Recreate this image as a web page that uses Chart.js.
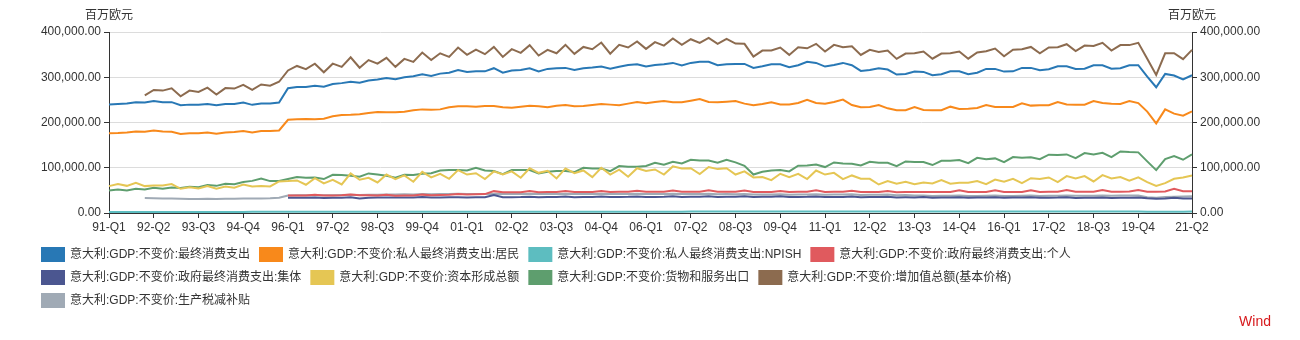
<!DOCTYPE html>
<html>
<head>
<meta charset="utf-8">
<script src="https://cdn.jsdelivr.net/npm/chart.js@4.4.0/dist/chart.umd.min.js"></script>
<style>
	body { margin: 0; background: #fff; }
</style>
</head>
<body>
<canvas id="MyChart" width="1300" height="340"></canvas>
<script>
// quarters 91-Q1 .. 21-Q2
var years = ['91','92','93','94','95','96','97','98','99','00','01','02','03','04','05','06',
	'07','08','09','10','11','12','13','14','15','16','17','18','19','20','21'];
var quarters = ['Q1','Q2','Q3','Q4'];
var tickLabels = ['91-Q1','92-Q2','93-Q3','94-Q4','96-Q1','97-Q2','98-Q3','99-Q4','01-Q1','02-Q2',
	'03-Q3','04-Q4','06-Q1','07-Q2','08-Q3','09-Q4','11-Q1','12-Q2','13-Q3','14-Q4','16-Q1','17-Q2',
	'18-Q3','19-Q4','21-Q2'];
var unit = '百万欧元';

var consumption = [
	240000,241000,242000,245000,244000,247500,245000,245000,238000,239500,
	239000,241000,238000,241000,241000,244000,239000,242000,242000,244000,
	275600,278600,278600,281000,279000,285000,287000,290000,288000,293000,
	295000,298500,295600,300000,302000,306600,303000,308000,310000,316000,
	311800,313000,313000,320000,310000,314800,316000,320000,313000,318500,
	320000,320700,316000,320000,321400,323600,319000,323000,327000,328800,
	323600,327000,328800,331700,325800,331700,334000,334000,326600,328800,
	329500,329500,320700,324400,328800,328800,322000,326600,334000,331700,
	323600,327000,331700,326600,314000,316000,320000,317000,306000,307400,
	312500,311800,304400,306600,313000,313000,306600,310000,318500,318500,
	312500,313000,320700,320700,315500,317700,324400,324400,318500,319000,
	326600,326600,319000,320000,326600,326600,301500,277900,307400,303700,
	295000,304400];
var households = [
	176000,176700,178000,180000,179500,182500,180000,179500,174500,176000,
	176000,178000,175000,178000,179000,181000,178000,181000,181000,182500,
	206000,207000,207500,207000,208500,213600,216600,217000,218000,221000,
	223000,222500,222500,224000,227000,229000,228400,229000,233600,235800,
	235800,235000,236500,236500,233600,232800,235000,237000,235800,233600,
	237000,238700,235800,236500,238700,241000,239500,238000,241700,245400,
	242400,245400,247600,244600,244600,248300,252000,245400,244600,246000,
	247600,241700,238000,241000,244600,240000,240000,243000,250000,243000,
	241700,245400,250600,238700,233600,234300,238700,231300,227000,227000,
	234000,227700,227000,227000,235000,230000,230600,232000,238700,234300,
	234300,234300,242400,237300,238000,238000,245400,240000,239500,239500,
	247600,243000,241700,241000,247600,243000,224000,198000,229000,219600,
	215000,224700];
var npish = [
	2300,2300,2320,2350,2350,2360,2380,2400,2400,2410,
	2420,2440,2450,2450,2470,2480,2500,2500,2510,2530,
	2550,2560,2570,2580,2600,2610,2620,2640,2650,2660,
	2680,2690,2700,2710,2720,2740,2750,2760,2770,2780,
	2800,2800,2810,2820,2830,2840,2850,2860,2870,2880,
	2900,2900,2910,2920,2930,2940,2950,2960,2970,2980,
	3000,3000,3010,3020,3030,3040,3050,3050,3060,3060,
	3070,3070,3060,3060,3050,3050,3060,3060,3070,3070,
	3080,3080,3080,3090,3090,3090,3100,3100,3100,3110,
	3110,3110,3100,3100,3100,3110,3110,3120,3120,3130,
	3130,3140,3140,3150,3150,3160,3160,3170,3170,3180,
	3180,3190,3190,3200,3200,3200,2900,2700,2950,3000,
	3000,3050];
var govIndividual = [
	null,null,null,null,null,null,null,null,null,null,
	null,null,null,null,null,null,null,null,null,null,
	38700,38500,38800,40500,38600,38900,39000,40800,39000,39200,
	38500,40500,38000,38500,38800,40600,39000,39800,40500,42000,
	41000,41500,41800,48300,45800,46000,46000,48500,46000,46200,
	46300,48500,46200,46500,46500,48800,46500,46800,46800,49000,
	46800,47000,47000,49500,46800,47000,47200,50000,47000,47200,
	47000,49800,46500,46500,46600,48500,46500,46800,46800,50000,
	46500,46800,46800,49000,46200,46500,46500,48500,46000,46300,
	46300,46500,46200,46300,46300,50000,46300,46500,46600,50000,
	46400,46600,46600,50500,46500,46700,46800,50800,46800,47000,
	47000,51000,47000,47200,47300,51000,47200,46800,47500,53500,
	48000,47800];
var govCollective = [
	null,null,null,null,null,null,null,null,null,null,
	null,null,null,null,null,null,null,null,null,null,
	33600,33800,33500,34500,33000,33500,33800,34800,32000,33500,
	34000,34500,34000,34500,34200,35500,34000,34500,34800,35000,
	34500,35000,35000,39500,34800,35000,35200,36000,34800,35200,
	35500,36200,35000,35500,35600,36500,35200,35600,35800,36500,
	35300,35600,35800,36800,35500,35800,36000,37000,35600,35800,
	36000,37200,35600,35800,36000,36800,35400,35600,35800,36500,
	35200,35400,35600,36300,35000,35200,35200,35800,34500,34700,
	34500,35200,33800,34000,34200,35000,33800,34000,34200,35000,
	33800,34000,34000,34800,33600,33800,34000,34800,33400,33600,
	33800,34500,33300,33500,33500,34300,32500,31500,32000,33500,
	32000,32000];
var capital = [
	59400,63800,60000,66800,59400,61000,61000,63800,53500,57000,
	54000,59400,53500,58700,55700,63000,58700,59400,58700,69700,
	70500,72000,62400,77000,65300,73400,63000,87500,73400,77900,
	67500,85000,75000,83000,69000,91000,78600,86700,75600,94800,
	85000,88000,75000,91900,85000,91900,77900,99000,88800,93400,
	76400,98500,88000,94000,79300,100000,85000,95600,80000,99000,
	93000,96300,85000,103000,98500,99000,86000,101500,97000,99000,
	85000,92000,78600,79300,72700,86700,79300,86700,75000,94000,
	85000,88800,75000,83000,75600,75600,63000,70500,64600,69000,
	63500,67500,65300,72700,64600,66800,66800,70500,63800,74000,
	69000,75600,66000,77000,75000,78600,68300,81500,76400,81500,
	69700,83800,76400,79300,71200,78600,68300,60000,66000,75600,
	78600,83000];
var exports = [
	49800,52000,49800,53500,52000,55700,53500,56500,55000,58000,
	57000,61600,60000,64600,63800,68300,71000,76400,70500,70500,
	75000,79300,78000,78600,75000,84500,83800,82300,80000,87500,
	85000,82300,77900,84500,83800,86700,88000,94000,94800,94800,
	94000,100000,94000,92600,86000,94800,94800,94800,87500,91000,
	92600,92600,90400,100000,98500,98500,92600,103700,102000,102000,
	104000,111000,106600,113000,109600,117700,116000,116000,111000,117700,
	111800,104400,85000,91000,94000,94800,92000,104400,105000,107000,
	101500,111800,109600,109000,105000,113000,111000,111000,103700,114000,
	112500,112500,106000,115500,115500,117000,110000,122000,119000,120700,
	112500,123600,122000,123000,119000,128800,128000,129500,121400,132500,
	129500,133000,123600,136000,134700,134000,114000,94800,119000,126000,
	117700,129500];
var valueAdded = [
	null,null,null,null,260000,272000,270500,275600,258000,270500,
	267500,277000,262000,276000,275000,283000,272000,284000,281500,290000,
	315000,325000,318000,330000,311000,330000,323000,344000,321000,338000,
	330000,343000,323000,340600,334000,354600,338000,353000,345000,365700,
	349400,361000,351000,367000,345000,362000,354000,371000,348000,360500,
	353000,371600,351700,367000,362000,376700,352000,371600,365700,379000,
	362700,377500,370000,385600,371600,384000,376000,387000,373800,385000,
	374500,373800,345800,359000,359000,365700,349400,366400,364000,373800,
	356800,371600,366400,368600,349400,360500,356000,359000,340600,352400,
	353000,356800,341000,352400,353000,356800,341000,354600,357600,363500,
	346500,361000,362000,367000,353000,365700,366400,373000,358000,370000,
	369000,376000,359000,371000,371000,376000,341000,305000,353000,353000,
	340000,360500];
var taxes = [
	null,null,null,null,33000,32500,32000,32000,31500,31000,
	31000,31500,31000,31500,31500,32000,32000,32000,32500,33500,
	38500,39000,39200,39500,39000,39500,39800,40500,40000,40200,
	40500,41000,40800,41200,41000,41800,41500,41800,42000,42500,
	41800,42000,41800,42500,41800,42000,41900,42500,41800,42000,
	41800,42300,41800,42000,42000,42500,41800,42000,42000,42500,
	41800,42000,42000,42500,41800,42000,41900,42400,41600,41800,
	41600,42000,40800,41000,41000,41600,40600,40800,41000,41600,
	40500,40800,40800,41300,40000,40200,40200,40800,39500,39800,
	38500,38800,37800,38000,38000,38500,37600,37800,38000,38500,
	37600,37800,38000,38500,37800,38000,38200,38800,38000,38200,
	38300,38800,38200,38400,38500,38800,35000,33500,35500,36000,
	36500,37000];

var labels = [];
for (var y = 0; y < years.length; y++) {
	for (var q = 0; q < quarters.length; q++) {
		if (years[y] == '21' && q > 1) break;
		labels.push(years[y] + '-' + quarters[q]);
	}
}

var font = '"Liberation Sans", "Noto Sans CJK SC", sans-serif';
Chart.defaults.font.family = font;
Chart.defaults.font.size = 12;
Chart.defaults.color = '#333';

function line(label, data, color) {
	return {
		label: label,
		data: data,
		borderColor: color,
		backgroundColor: color,
		borderWidth: 2,
		pointRadius: 0,
		tension: 0,
		spanGaps: false
	};
}

var fmt = function(v) {
	return v.toLocaleString('en-US', { minimumFractionDigits: 2, maximumFractionDigits: 2 });
};

var extras = {
	id: 'extras',
	afterDraw: function(chart) {
		var ctx = chart.ctx, a = chart.chartArea;
		ctx.save();
		ctx.font = '12px ' + font;
		ctx.fillStyle = '#333';
		ctx.textAlign = 'center';
		ctx.textBaseline = 'middle';
		ctx.fillText(unit, a.left, 16);
		ctx.fillText(unit, a.right, 16);
		ctx.font = '14px ' + font;
		ctx.fillStyle = '#d7191c';
		ctx.textAlign = 'right';
		ctx.fillText('Wind', 1271, 322);
		ctx.restore();
	}
};

// keep the legend rows inside the plot width (so the last item wraps to a third row)
var legendWidth = 1160;
var narrowLegend = {
	id: 'narrowLegend',
	beforeLayout: function(chart) {
		var lg = chart.legend;
		if (lg && !lg._narrow) {
			var update = lg.update;
			lg.update = function(w, h, m) { update.call(this, Math.min(w, legendWidth), h, m); };
			lg._narrow = true;
		}
	},
	afterLayout: function(chart) {
		chart.legend.right = chart.legend.left + legendWidth;
	}
};

var ctx = document.getElementById('MyChart').getContext('2d');
var chart = new Chart(ctx, {
	type: 'line',
	data: {
		labels: labels,
		datasets: [
			line('意大利:GDP:不变价:最终消费支出', consumption, '#2878b5'),
			line('意大利:GDP:不变价:私人最终消费支出:居民', households, '#f8891b'),
			line('意大利:GDP:不变价:私人最终消费支出:NPISH', npish, '#5dbdc0'),
			line('意大利:GDP:不变价:政府最终消费支出:个人', govIndividual, '#e05a5e'),
			line('意大利:GDP:不变价:政府最终消费支出:集体', govCollective, '#4b5690'),
			line('意大利:GDP:不变价:资本形成总额', capital, '#e5c654'),
			line('意大利:GDP:不变价:货物和服务出口', exports, '#5e9e6e'),
			line('意大利:GDP:不变价:增加值总额(基本价格)', valueAdded, '#8c6b4f'),
			line('意大利:GDP:不变价:生产税减补贴', taxes, '#a0aab5')
		]
	},
	options: {
		responsive: false,
		animation: false,
		layout: { padding: { left: 32, right: 30, top: 32, bottom: 23 } },
		plugins: {
			legend: {
				position: 'bottom',
				align: 'start',
				labels: { boxWidth: 22, boxHeight: 13, padding: 10, color: '#333', font: { size: 12 } }
			},
			tooltip: { enabled: false }
		},
		scales: {
			x: {
				offset: false,
				grid: { drawOnChartArea: false, drawTicks: true, tickLength: 5, tickColor: '#333' },
				border: { color: '#333' },
				ticks: {
					autoSkip: false,
					maxRotation: 0,
					padding: 2,
					color: '#333',
					callback: function(v) {
						var l = this.getLabelForValue(v);
						return tickLabels.indexOf(l) >= 0 ? l : null;
					}
				},
				afterFit: function(s) { s.height = 25; }
			},
			y: {
				position: 'left',
				min: 0,
				max: 400000,
				ticks: { stepSize: 100000, padding: 3, color: '#333', callback: fmt },
				grid: { color: '#dcdcdc', tickColor: '#333', tickLength: 5 },
				border: { color: '#333' },
				afterFit: function(s) { s.width = 77; }
			},
			y2: {
				position: 'right',
				min: 0,
				max: 400000,
				ticks: { stepSize: 100000, padding: 3, color: '#333', callback: fmt },
				grid: { drawOnChartArea: false, tickColor: '#333', tickLength: 5 },
				border: { color: '#333' },
				afterFit: function(s) { s.width = 78; }
			}
		}
	},
	plugins: [extras, narrowLegend]
});
</script>
</body>
</html>
